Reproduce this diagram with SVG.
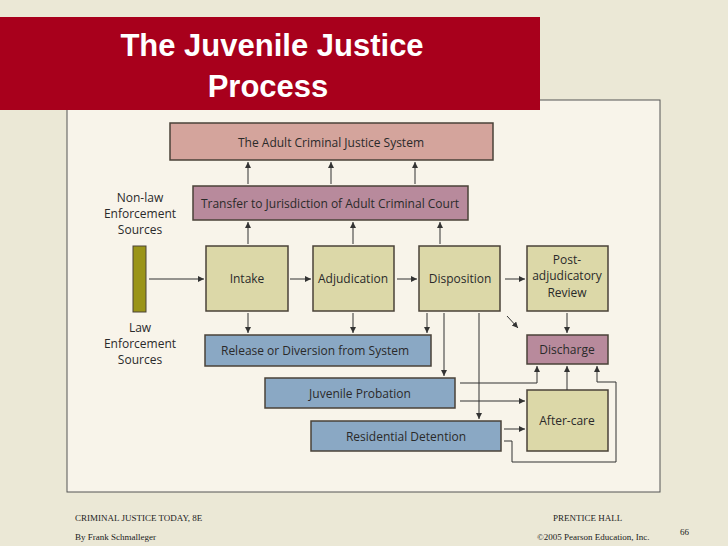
<svg xmlns="http://www.w3.org/2000/svg" width="728" height="546" viewBox="0 0 728 546">
<style>
.b{stroke:#4a4238;stroke-width:1.5}
.y{fill:#dcd8a8}.bl{fill:#8aa8c4}.p{fill:#b88a9c}.a{fill:#d4a49c}
.t{font-family:"Open Sans","DejaVu Sans",sans-serif;font-size:12px;fill:#2a2a2a;text-anchor:middle}
.f{font-family:"Liberation Serif",serif;font-size:9px;fill:#222}
#c line,#c polyline{stroke:#333;stroke-width:1;fill:none}
</style>
<defs><marker id="m" markerWidth="7" markerHeight="7" refX="6" refY="3" orient="auto" markerUnits="userSpaceOnUse"><path d="M0,0L6,3L0,6z" fill="#333"/></marker></defs>
<rect width="728" height="546" fill="#ebe8d6"/>
<rect x="67" y="100" width="593" height="392" fill="#f8f4ea" stroke="#555" stroke-width="1"/>
<rect x="0" y="17" width="540" height="93" fill="#a8001c"/>
<text x="272" y="56" font-family="Liberation Sans,Arial,sans-serif" font-weight="bold" font-size="31" fill="#fff" text-anchor="middle">The Juvenile Justice</text>
<text x="268" y="97" font-family="Liberation Sans,Arial,sans-serif" font-weight="bold" font-size="31" fill="#fff" text-anchor="middle">Process</text>
<g id="adult"><rect class="b a" x="170" y="123" width="323" height="37"/><text class="t" x="331" y="147" font-size="13">The Adult Criminal Justice System</text></g>
<g id="transfer"><rect class="b p" x="193" y="186" width="275" height="34"/><text class="t" x="330" y="208">Transfer to Jurisdiction of Adult Criminal Court</text></g>
<g id="sources"><rect x="133" y="246" width="13" height="66" fill="#9a9418" stroke="#4a4238"/>
<text class="t" x="140" y="202">Non-law</text><text class="t" x="140" y="218">Enforcement</text><text class="t" x="140" y="234">Sources</text>
<text class="t" x="140" y="332">Law</text><text class="t" x="140" y="348">Enforcement</text><text class="t" x="140" y="364">Sources</text></g>
<g id="intake"><rect class="b y" x="206" y="246" width="82" height="65"/><text class="t" x="247" y="283">Intake</text></g>
<g id="adjudication"><rect class="b y" x="313" y="246" width="81" height="65"/><text class="t" x="353" y="283">Adjudication</text></g>
<g id="disposition"><rect class="b y" x="419" y="246" width="81" height="65"/><text class="t" x="460" y="283">Disposition</text></g>
<g id="post"><rect class="b y" x="527" y="246" width="81" height="65"/><text class="t" x="567" y="264">Post-</text><text class="t" x="567" y="280">adjudicatory</text><text class="t" x="567" y="297">Review</text></g>
<g id="release"><rect class="b bl" x="205" y="335" width="226" height="31"/><text class="t" x="315" y="355">Release or Diversion from System</text></g>
<g id="discharge"><rect class="b p" x="527" y="335" width="81" height="29"/><text class="t" x="567" y="354">Discharge</text></g>
<g id="probation"><rect class="b bl" x="265" y="378" width="190" height="30"/><text class="t" x="360" y="398">Juvenile Probation</text></g>
<g id="residential"><rect class="b bl" x="311" y="421" width="190" height="30"/><text class="t" x="406" y="441">Residential Detention</text></g>
<g id="aftercare"><rect class="b y" x="527" y="390" width="81" height="61"/><text class="t" x="567" y="425">After-care</text></g>
<g id="c" marker-end="url(#m)">
<line x1="149" y1="279" x2="204" y2="279"/><line x1="290" y1="279" x2="311" y2="279"/><line x1="397" y1="279" x2="417" y2="279"/><line x1="505" y1="279" x2="525" y2="279"/>
<line x1="248" y1="244" x2="248" y2="222"/><line x1="353" y1="244" x2="353" y2="222"/><line x1="440" y1="244" x2="440" y2="222"/>
<line x1="248" y1="184" x2="248" y2="162"/><line x1="331" y1="184" x2="331" y2="162"/><line x1="415" y1="184" x2="415" y2="162"/>
<line x1="248" y1="313" x2="248" y2="333"/><line x1="353" y1="313" x2="353" y2="333"/><line x1="427" y1="313" x2="427" y2="333"/>
<line x1="444" y1="313" x2="444" y2="376"/><line x1="479" y1="313" x2="479" y2="419"/>
<line x1="507" y1="316" x2="518" y2="328"/><line x1="567" y1="313" x2="567" y2="333"/>
<line x1="567" y1="390" x2="567" y2="366"/>
<polyline points="460,383 537,383 537,366"/>
<line x1="460" y1="401" x2="525" y2="401"/>
<line x1="504" y1="429" x2="525" y2="429"/>
<polyline points="504,441 512,441 512,462 616,462 616,382 597,382 597,366"/>
</g>
<text class="f" x="75" y="521">CRIMINAL JUSTICE TODAY, 8E</text>
<text class="f" x="75" y="540">By Frank Schmalleger</text>
<text class="f" x="553" y="521">PRENTICE HALL</text>
<text class="f" x="537" y="540">©2005 Pearson Education, Inc.</text>
<text class="f" x="680" y="535" font-size="12">66</text>
</svg>
